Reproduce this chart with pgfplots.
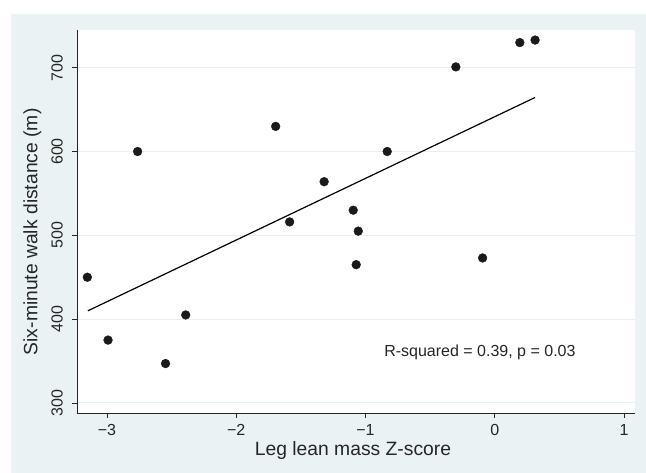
\documentclass[border=0pt]{standalone}
\usepackage{pgfplots}
\pgfplotsset{compat=1.18}
\usepackage{fontspec}
\setmainfont{Liberation Sans}
\definecolor{bgc}{RGB}{234,242,243}
\definecolor{gridc}{RGB}{232,240,241}
\definecolor{dotc}{RGB}{26,26,26}
\begin{document}
\begin{tikzpicture}
\path[fill=white] (0bp,0bp) rectangle (646bp,473bp);
\fill[bgc] (11bp,0bp) rectangle (646bp,459bp);
\begin{axis}[
  at={(77bp,60bp)}, anchor=south west,
  scale only axis, width=558bp, height=383bp,
  xmin=-3.232, xmax=1.085, ymin=288, ymax=745,
  axis lines*=left,
  axis line style={black!85, line width=0.9bp},
  axis background/.style={fill=white},
  xtick={-3,-2,-1,0,1}, xticklabels={−3,−2,−1,0,1},
  ytick={300,400,500,600,700}, yticklabels={300,400,500,600,700},
  tick align=outside, major tick length=5bp,
  tick style={black!85, line width=0.8bp},
  ymajorgrids, grid style={gridc, line width=1bp},
  ticklabel style={font=\fontsize{16bp}{19bp}\selectfont, text=black!85},
  xticklabel style={anchor=north, inner sep=0pt},
  yticklabel style={rotate=90, anchor=south, inner sep=0pt},
  xticklabel shift=6bp, yticklabel shift=9bp,
  xlabel={Leg lean mass Z-score},
  ylabel={Six-minute walk distance (m)},
  label style={font=\fontsize{19.3bp}{23bp}\selectfont, text=black!85},
  xlabel style={at={(axis description cs:0.4946,-0.1097)}, anchor=base},
  ylabel style={at={(axis description cs:-0.0711,0.473)}, anchor=base},
  clip=false,
]
\addplot[only marks, mark=*, mark size=4.4bp, mark options={fill=dotc, draw=dotc}] coordinates {
(-3.152,450) (-2.992,375) (-2.763,600) (-2.547,347) (-2.391,405)
(-1.695,630) (-1.587,516) (-1.320,564) (-1.095,530) (-1.056,505)
(-1.072,465) (-0.832,600) (-0.301,701) (-0.094,473) (0.194,730) (0.312,733)
};
\addplot[black, line width=1.2bp] coordinates {(-3.147,410) (0.312,664.5)};
\node[font=\fontsize{16bp}{19bp}\selectfont, text=black!85] at (axis cs:-0.115,360.6) {R-squared = 0.39, p = 0.03};
\end{axis}
\end{tikzpicture}
\end{document}
